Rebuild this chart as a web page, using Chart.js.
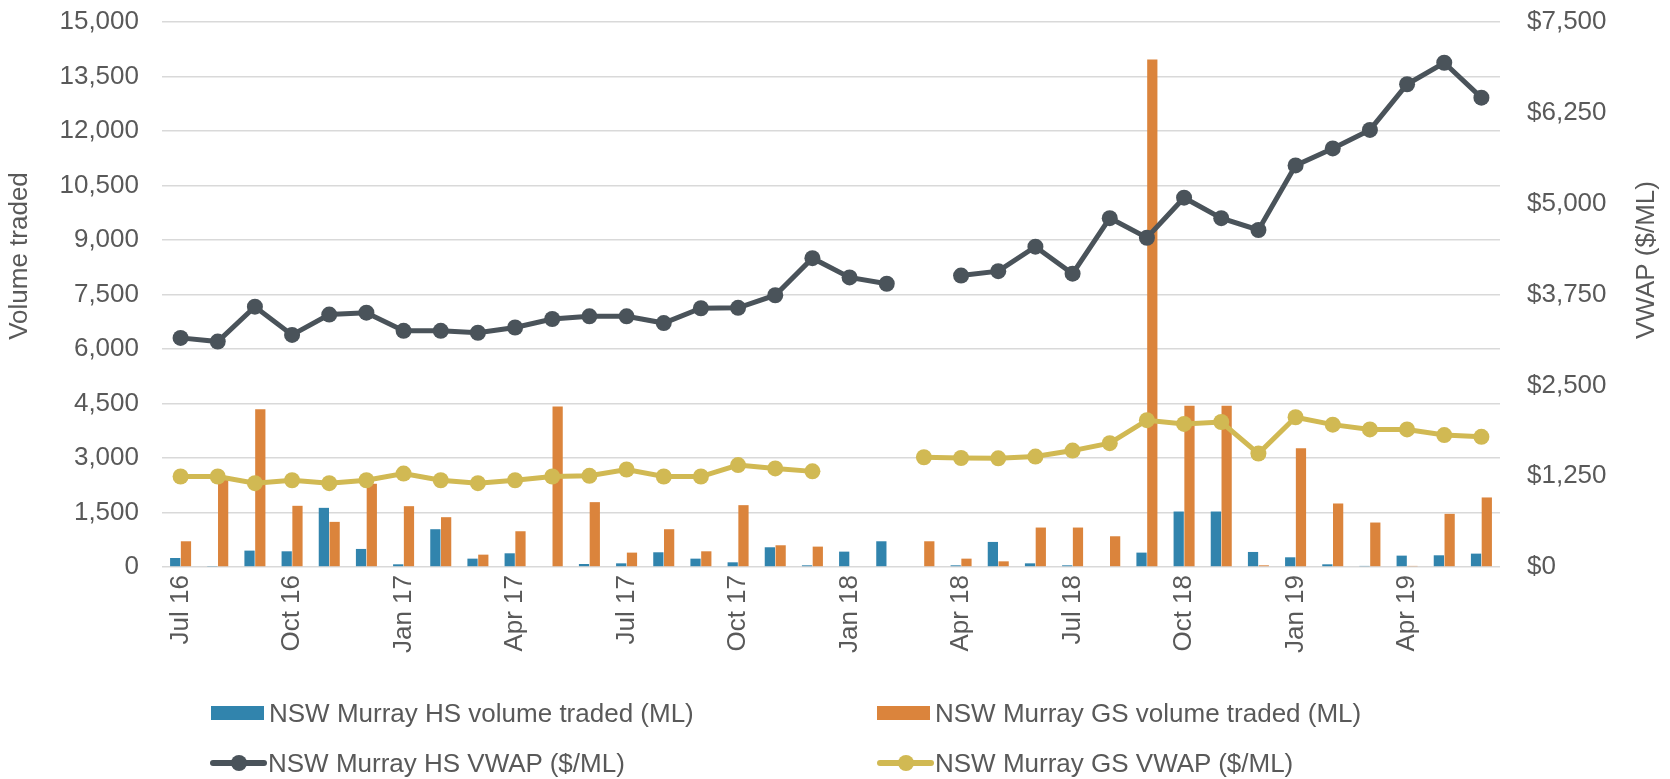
<!DOCTYPE html>
<html><head><meta charset="utf-8">
<script src="https://cdn.jsdelivr.net/npm/chart.js@4.4.1/dist/chart.umd.min.js"></script>
<style>
html,body{margin:0;padding:0;background:#fff;}
#wrap{position:relative;width:1670px;height:779px;overflow:hidden;}
#c{position:absolute;left:0;top:0;}
.leg{position:absolute;height:30px;font-family:"Liberation Sans",Arial,sans-serif;font-size:26px;color:#595959;white-space:nowrap;line-height:30px;}
.leg .txt{position:absolute;top:0;}
.leg .box{position:absolute;}
.leg .line{position:absolute;}
.leg .dot{position:absolute;border-radius:50%;}
</style></head><body>
<div id="wrap"><canvas id="c" width="1670" height="779"></canvas><div id="legend"></div></div>
<script>
const months = ["Jul 16","Aug 16","Sep 16","Oct 16","Nov 16","Dec 16","Jan 17","Feb 17","Mar 17","Apr 17","May 17","Jun 17",
  "Jul 17","Aug 17","Sep 17","Oct 17","Nov 17","Dec 17","Jan 18","Feb 18","Mar 18","Apr 18","May 18","Jun 18",
  "Jul 18","Aug 18","Sep 18","Oct 18","Nov 18","Dec 18","Jan 19","Feb 19","Mar 19","Apr 19","May 19","Jun 19"];
const hsVolume = [248,15,451,432,1628,497,74,1040,230,377,0,83,101,405,230,129,543,46,423,708,0,46,690,101,46,0,396,1527,1527,414,267,74,30,313,322,368];
const gsVolume = [708,2410,4342,1684,1242,2291,1674,1371,340,984,4416,1785,396,1040,432,1702,598,561,0,0,708,230,156,1086,1086,846,13970,4440,4440,46,3266,1748,1224,30,1463,1914];
const hsVwap = [3153,3102,3582,3194,3474,3500,3250,3250,3224,3296,3413,3449,3449,3357,3561,3566,3740,4250,3985,3898,null,4010,4071,4408,4036,4801,4531,5082,4801,4638,5526,5760,6015,6643,6939,6459];
const gsVwap = [1245,1245,1153,1194,1153,1194,1286,1194,1153,1194,1245,1255,1342,1245,1245,1403,1357,1316,null,null,1510,1500,1495,1520,1602,1704,2020,1969,1995,1561,2061,1959,1893,1893,1816,1791];
const volumeTicks = {min:0, max:15000, step:1500};
const priceTicks = {min:0, max:7500, step:1250};
const seriesNames = ["NSW Murray HS volume traded (ML)","NSW Murray GS volume traded (ML)","NSW Murray HS VWAP ($/ML)","NSW Murray GS VWAP ($/ML)"];
const axisTitles = ["Volume traded","VWAP ($/ML)"];

const FONT = '"Liberation Sans", Arial, sans-serif';
const TXT = '#595959';
const C_BLUE = '#3184ad', C_ORANGE = '#db843c', C_DARK = '#4a535a', C_YEL = '#d1b953';
function fmt(v){ return String(Math.round(v)).replace(/\B(?=(\d{3})+(?!\d))/g, ','); }

const titlePlugin = {
  id: 'axisTitles',
  afterDraw(chart){
    const ctx = chart.ctx;
    ctx.save();
    ctx.fillStyle = TXT;
    ctx.font = '26px ' + FONT;
    ctx.textAlign = 'center';
    ctx.textBaseline = 'middle';
    ctx.translate(20, 256); ctx.rotate(-Math.PI/2); ctx.fillText(axisTitles[0], 0, 0);
    ctx.restore();
    ctx.save();
    ctx.fillStyle = TXT;
    ctx.font = '26px ' + FONT;
    ctx.textAlign = 'center';
    ctx.textBaseline = 'middle';
    ctx.translate(1647, 260); ctx.rotate(-Math.PI/2); ctx.fillText(axisTitles[1], 0, 0);
    ctx.restore();
  }
};

const chart = new Chart(document.getElementById('c'), {
  data: {
    labels: months,
    datasets: [
      {type:'bar', label: seriesNames[0], data: hsVolume, backgroundColor: C_BLUE, yAxisID:'y', order:2, barPercentage:0.95, categoryPercentage:0.58},
      {type:'bar', label: seriesNames[1], data: gsVolume, backgroundColor: C_ORANGE, yAxisID:'y', order:2, barPercentage:0.95, categoryPercentage:0.58},
      {type:'line', label: seriesNames[2], data: hsVwap, borderColor: C_DARK, backgroundColor: C_DARK, borderWidth:5, pointRadius:8, pointHoverRadius:8, pointBorderWidth:0, yAxisID:'y1', order:0, spanGaps:false, tension:0},
      {type:'line', label: seriesNames[3], data: gsVwap, borderColor: C_YEL, backgroundColor: C_YEL, borderWidth:5, pointRadius:8, pointHoverRadius:8, pointBorderWidth:0, yAxisID:'y1', order:1, spanGaps:false, tension:0}
    ]
  },
  options: {
    responsive:false, animation:false, devicePixelRatio:1,
    layout:{padding:{top:22, left:0, right:0, bottom:0}},
    plugins:{legend:{display:false}, tooltip:{enabled:false}, title:{display:false}},
    scales:{
      x:{
        grid:{display:false, drawTicks:false}, border:{display:false},
        ticks:{autoSkip:false, maxRotation:90, minRotation:90, padding:8, color:TXT, font:{family:FONT, size:26},
          callback(val, idx){ return idx % 3 === 0 ? this.getLabelForValue(val) : ''; }},
        afterFit(s){ s.height = 212; s.paddingLeft = 0; s.paddingRight = 0; }
      },
      y:{
        position:'left', min:volumeTicks.min, max:volumeTicks.max,
        grid:{color:'#d9d9d9', lineWidth:1.6, drawTicks:false}, border:{display:false},
        ticks:{stepSize:volumeTicks.step, padding:23, color:TXT, font:{family:FONT, size:26}, callback:v=>fmt(v)},
        afterFit(s){ s.width = 162; s.paddingTop = 0; s.paddingBottom = 0; }
      },
      y1:{
        position:'right', min:priceTicks.min, max:priceTicks.max,
        grid:{display:false, drawTicks:false}, border:{display:false},
        ticks:{stepSize:priceTicks.step, padding:27, color:TXT, font:{family:FONT, size:26}, callback:v=>'$'+fmt(v)},
        afterFit(s){ s.width = 170; s.paddingTop = 0; s.paddingBottom = 0; }
      }
    }
  },
  plugins:[titlePlugin]
});

// HTML legend built from the chart's datasets
const legendPos = [
  {x:211, y:713}, {x:877, y:713}, {x:210, y:763}, {x:877, y:763}
];
const legendEl = document.getElementById('legend');
chart.data.datasets.forEach((ds, i) => {
  const p = legendPos[i];
  const item = document.createElement('div');
  item.className = 'leg';
  item.style.left = p.x + 'px';
  item.style.top = (p.y - 15) + 'px';
  if (ds.type === 'bar') {
    const b = document.createElement('div');
    b.className = 'box';
    b.style.cssText = 'left:0;top:8px;width:53px;height:14px;background:' + ds.backgroundColor;
    item.appendChild(b);
  } else {
    const l = document.createElement('div');
    l.className = 'line';
    l.style.cssText = 'left:0;top:12px;width:57px;height:6px;border-radius:3px;background:' + ds.borderColor;
    item.appendChild(l);
    const d = document.createElement('div');
    d.className = 'dot';
    d.style.cssText = 'left:21px;top:7px;width:16px;height:16px;background:' + ds.borderColor;
    item.appendChild(d);
  }
  const t = document.createElement('span');
  t.className = 'txt';
  t.style.left = '58px';
  t.textContent = ds.label;
  item.appendChild(t);
  legendEl.appendChild(item);
});
</script>
</body></html>
